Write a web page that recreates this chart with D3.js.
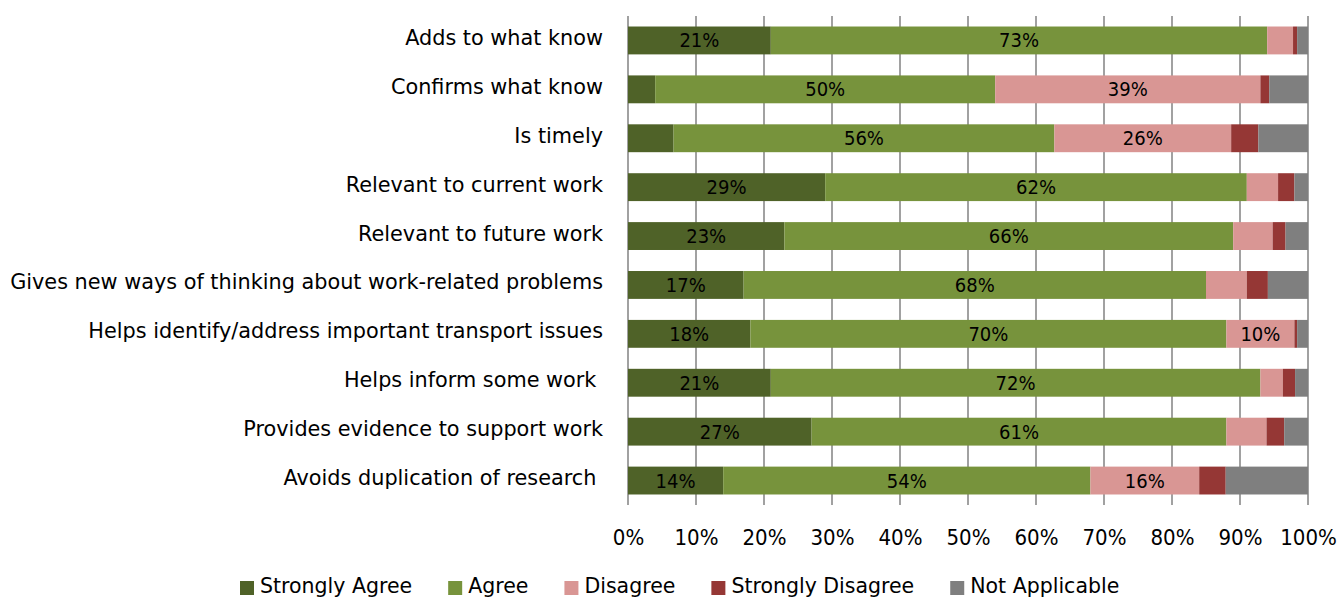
<!DOCTYPE html>
<html>
<head>
<meta charset="utf-8">
<script src="https://cdn.jsdelivr.net/npm/d3@7"></script>
<style>
  html, body { margin: 0; padding: 0; background: #fff; }
  svg { display: block; }
</style>
</head>
<body>
<svg id="chart" width="1340" height="600"></svg>
<script>
// Survey statements, top to bottom
const categories = [
  "Adds to what know",
  "Confirms what know",
  "Is timely",
  "Relevant to current work",
  "Relevant to future work",
  "Gives new ways of thinking about work-related problems",
  "Helps identify/address important transport issues",
  "Helps inform some work ",
  "Provides evidence to support work",
  "Avoids duplication of research "
];

// Share of responses (%) per statement
const stronglyAgree    = [21, 4, 6.7, 29, 23, 17, 18, 21, 27, 14];
const agree            = [73, 50, 56, 62, 66, 68, 70, 72, 61, 54];
const disagree         = [3.8, 39, 26, 4.6, 5.8, 6.0, 10, 3.3, 5.9, 16];
const stronglyDisagree = [0.6, 1.3, 4, 2.4, 1.9, 3.1, 0.4, 1.8, 2.6, 3.9];
const notApplicable    = [1.6, 5.7, 7.3, 2.0, 3.3, 5.9, 1.6, 1.9, 3.5, 12.1];

const seriesNames  = ["Strongly Agree", "Agree", "Disagree", "Strongly Disagree", "Not Applicable"];
const seriesColors = ["#4f6228", "#77933c", "#d99694", "#953735", "#7f7f7f"];
const labeledSeries = ["Strongly Agree", "Agree", "Disagree"];
const minLabelValue = 9.5;

const tickValues = [0, 10, 20, 30, 40, 50, 60, 70, 80, 90, 100];
const tickLabels = ["0%", "10%", "20%", "30%", "40%", "50%", "60%", "70%", "80%", "90%", "100%"];

const seriesValues = [stronglyAgree, agree, disagree, stronglyDisagree, notApplicable];
const rows = categories.map((c, i) => {
  const r = { category: c };
  seriesNames.forEach((s, k) => { r[s] = seriesValues[k][i]; });
  return r;
});

const svg = d3.select("#chart");
const plot = { left: 628, right: 1308, top: 16, bottom: 505 };

const x = d3.scaleLinear().domain([0, 100]).range([plot.left, plot.right]);
const y = d3.scaleBand().domain(categories).range([plot.top, plot.bottom])
  .paddingInner(0.43).paddingOuter(0.215);
const color = d3.scaleOrdinal().domain(seriesNames).range(seriesColors);

const labelFont = "'DejaVu Sans', Verdana, sans-serif";
const numFont = "'Liberation Sans Narrow', 'DejaVu Sans Condensed', 'Arial Narrow', sans-serif";

// Vertical gridlines (and the category axis at 0%)
svg.append("g").selectAll("line")
  .data(tickValues)
  .join("line")
  .attr("x1", d => x(d)).attr("x2", d => x(d))
  .attr("y1", plot.top).attr("y2", plot.bottom)
  .attr("stroke", "#8a8a8a")
  .attr("stroke-width", 1.6);

// Stacked bars
const stack = d3.stack().keys(seriesNames);
const layers = stack(rows);

const layerG = svg.append("g").selectAll("g")
  .data(layers)
  .join("g")
  .attr("fill", d => color(d.key));

layerG.selectAll("rect")
  .data(d => d.map(v => ({ v, key: d.key })))
  .join("rect")
  .attr("x", d => x(d.v[0]))
  .attr("width", d => x(d.v[1]) - x(d.v[0]))
  .attr("y", d => y(d.v.data.category))
  .attr("height", y.bandwidth());

// Value labels inside the larger segments
const labelG = svg.append("g")
  .attr("font-family", numFont)
  .attr("font-size", 20)
  .attr("fill", "#000")
  .attr("text-anchor", "middle");

layers.filter(l => labeledSeries.includes(l.key)).forEach(l => {
  l.forEach(v => {
    const val = v[1] - v[0];
    if (val < minLabelValue) return;
    labelG.append("text")
      .attr("x", (x(v[0]) + x(v[1])) / 2)
      .attr("y", y(v.data.category) + y.bandwidth() / 2 + 7)
      .text(Math.round(val) + "%");
  });
});

// Category labels
svg.append("g")
  .attr("font-family", labelFont)
  .attr("font-size", 20.8)
  .attr("fill", "#000")
  .attr("text-anchor", "end")
  .selectAll("text")
  .data(categories)
  .join("text")
  .attr("x", 603)
  .attr("y", d => y(d) + y.bandwidth() / 2 + 4.5)
  .style("white-space", "pre")
  .text(d => d);

// Percentage axis
const xAxis = d3.axisBottom(x)
  .tickValues(tickValues)
  .tickFormat((d, i) => tickLabels[i])
  .tickSize(0)
  .tickPadding(0);

const axisG = svg.append("g")
  .attr("transform", `translate(0, 529)`)
  .call(xAxis);
axisG.select(".domain").remove();
axisG.selectAll("text")
  .attr("font-family", numFont)
  .attr("font-size", 22)
  .attr("fill", "#000")
  .attr("dy", "0.71em");

// Legend
const legend = svg.append("g")
  .attr("font-family", labelFont)
  .attr("font-size", 20.5)
  .attr("fill", "#000");

let lx = 240;
seriesNames.forEach(name => {
  legend.append("rect")
    .attr("x", lx).attr("y", 581)
    .attr("width", 14).attr("height", 14)
    .attr("fill", color(name));
  const t = legend.append("text")
    .attr("x", lx + 20).attr("y", 593)
    .text(name);
  const w = t.node().getComputedTextLength();
  lx += 20 + w + 36;
});
</script>
</body>
</html>
